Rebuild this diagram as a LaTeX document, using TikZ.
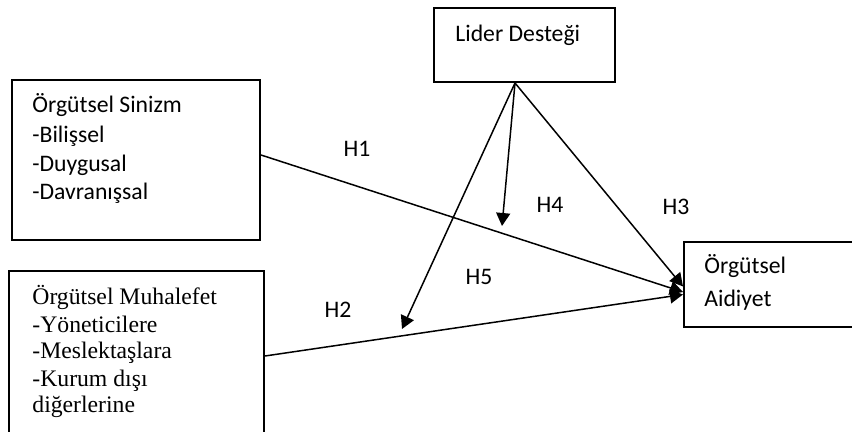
\documentclass[tikz,border=0pt]{standalone}
\usepackage{fontspec}
\setmainfont{Carlito}
\newfontfamily\timesfont{Liberation Serif}
\usetikzlibrary{arrows.meta}
\tikzset{
    kutu/.style={draw, line width=1pt, inner sep=0pt, anchor=north west},
    yazi/.style={anchor=base west, inner sep=0pt, font=\fontsize{11.85}{14}\selectfont},
    etiket/.style={anchor=base, inner sep=0pt, font=\fontsize{11.85}{14}\selectfont},
    ok/.style={-{Triangle[length=6.5pt,width=7pt]}, line width=0.75pt}
}
\begin{document}
\begin{tikzpicture}[x=0.5pt,y=-0.5pt]
        \clip (0,0) rectangle (852,432);
        % boxes
        \node[kutu, minimum width=90.5pt, minimum height=37pt] (lider) at (433,7) {};
        \node[kutu, minimum width=124pt, minimum height=80pt] (sinizm) at (11,79) {};
        \node[kutu, minimum width=127.5pt, minimum height=100pt] (muhalefet) at (8,270) {};
        \node[kutu, minimum width=100pt, minimum height=42.5pt] (aidiyet) at (683,241) {};
        \coordinate (h4) at (502,226);
        \coordinate (h5) at (402,329);
        
        % lines
        \draw[ok] ([yshift=2.5pt]sinizm.east) -- ([yshift=-3.75pt]aidiyet.west);
        \draw[ok] ([yshift=7.5pt]muhalefet.east) -- ([yshift=-5pt]aidiyet.west);
        \draw[ok] ([xshift=-4.75pt]lider.south) -- ([yshift=-1pt]aidiyet.west);
        \draw[ok] ([xshift=-4.75pt]lider.south) -- (h4);
        \draw[ok] ([xshift=-4.75pt]lider.south) -- (h5);
        
        % texts
        \node[yazi] (ld1) at (455,42) {Lider Desteği};
        \foreach \satir/\y [count=\i] in {Örgütsel Sinizm/113, -Bilişsel/143, -Duygusal/172, -Davranışsal/200}
            \node[yazi] (sin\i) at (32,\y) {\satir};
        \foreach \satir/\y [count=\i] in {Örgütsel Muhalefet/305, -Yöneticilere/333, -Meslektaşlara/359, -Kurum dışı/387, diğerlerine/413}
            \node[yazi, font=\fontsize{11.85}{14}\timesfont] (muh\i) at (32,\y) {\satir};
        \node[yazi] (aid1) at (704,274) {Örgütsel};
        \node[yazi] (aid2) at (704,307) {Aidiyet};
        
        % hypotheses
        \node[etiket] (e1) at (357,157) {H1};
        \node[etiket] (e2) at (338,318) {H2};
        \node[etiket] (e3) at (676,215) {H3};
        \node[etiket] (e4) at (550,213) {H4};
        \node[etiket] (e5) at (479,285) {H5};
    \end{tikzpicture}
\end{document}
